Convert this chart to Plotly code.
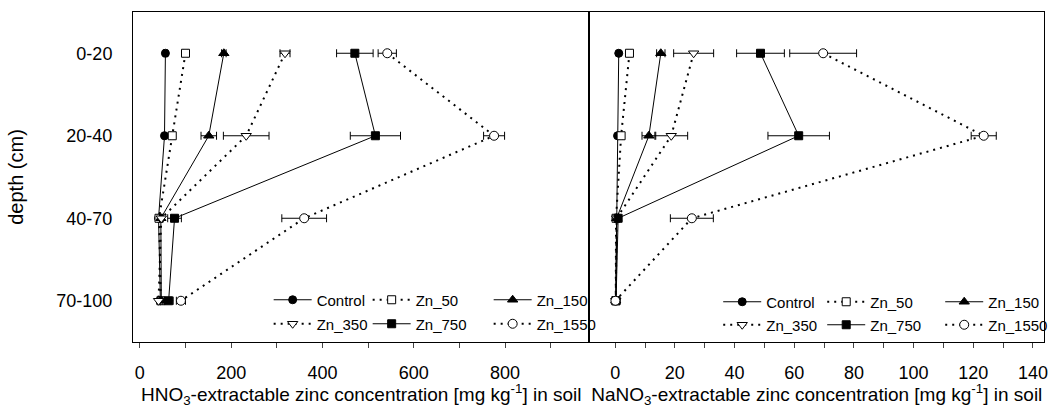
import plotly.graph_objects as go

# ---------------- data ----------------
depths = ["0-20", "20-40", "40-70", "70-100"]
series_names = ["Control", "Zn_50", "Zn_150", "Zn_350", "Zn_750", "Zn_1550"]

# HNO3-extractable Zn [mg/kg]
hno3_control = [56, 54, 41, 45]
hno3_zn50 = [100, 71, 42, 46]
hno3_zn150 = [184, 151, 46, 47]
hno3_zn350 = [318, 233, 47, 41]
hno3_zn750 = [471, 516, 76, 63]
hno3_zn1550 = [542, 776, 360, 90]

hno3_err_control = [4, 3, 2, 2]
hno3_err_zn50 = [5, 4, 2, 2]
hno3_err_zn150 = [5, 17, 3, 2]
hno3_err_zn350 = [11, 50, 4, 2]
hno3_err_zn750 = [40, 55, 15, 10]
hno3_err_zn1550 = [20, 23, 49, 10]

# NaNO3-extractable Zn [mg/kg]
nano3_control = [1.2, 0.8, 0.4, 0.2]
nano3_zn50 = [4.8, 2.0, 0.3, 0.2]
nano3_zn150 = [15.3, 11.3, 0.5, 0.2]
nano3_zn350 = [26.3, 18.8, 0.5, 0.2]
nano3_zn750 = [48.7, 61.5, 1.0, 0.3]
nano3_zn1550 = [69.7, 123.5, 25.7, 0.1]

nano3_err_control = [0.3, 0.3, 0.0, 0.0]
nano3_err_zn50 = [0.5, 0.5, 0.0, 0.0]
nano3_err_zn150 = [1.4, 2.3, 0.2, 0.0]
nano3_err_zn350 = [6.7, 5.5, 0.2, 0.0]
nano3_err_zn750 = [8.0, 10.3, 0.3, 0.0]
nano3_err_zn1550 = [11.2, 4.2, 7.2, 0.0]

hno3_tick_vals = [0, 200, 400, 600, 800]
nano3_tick_vals = [0, 20, 40, 60, 80, 100, 120, 140]

# ---------------- styles ----------------
FONT = "Liberation Sans, Arial, Helvetica, sans-serif"
DOT = "2px,5px"
styles = {
    "Control": dict(symbol="circle", fill="black", dash="solid", lw=1, size=8),
    "Zn_50": dict(symbol="square", fill="white", dash=DOT, lw=2, size=8),
    "Zn_150": dict(symbol="triangle-up", fill="black", dash="solid", lw=1, size=9),
    "Zn_350": dict(symbol="triangle-down", fill="white", dash=DOT, lw=2, size=9),
    "Zn_750": dict(symbol="square", fill="black", dash="solid", lw=1, size=8),
    "Zn_1550": dict(symbol="circle", fill="white", dash=DOT, lw=2, size=9),
}

left_vals = [hno3_control, hno3_zn50, hno3_zn150, hno3_zn350, hno3_zn750, hno3_zn1550]
left_errs = [hno3_err_control, hno3_err_zn50, hno3_err_zn150, hno3_err_zn350,
             hno3_err_zn750, hno3_err_zn1550]
right_vals = [nano3_control, nano3_zn50, nano3_zn150, nano3_zn350, nano3_zn750, nano3_zn1550]
right_errs = [nano3_err_control, nano3_err_zn50, nano3_err_zn150, nano3_err_zn350,
              nano3_err_zn750, nano3_err_zn1550]

left_legends = ["legend", "legend", "legend", "legend2", "legend2", "legend2"]
right_legends = ["legend3", "legend3", "legend3", "legend4", "legend4", "legend4"]
left_lw = [46, 68, 60, 46, 68, 60]
right_lw = [51, 65, 60, 51, 65, 60]

fig = go.Figure()


def add_series(vals, errs, xaxis, yaxis, legends, lws):
    for i, name in enumerate(series_names):
        st = styles[name]
        fig.add_trace(go.Scatter(
            x=vals[i], y=depths, name=name, mode="lines+markers",
            xaxis=xaxis, yaxis=yaxis, legend=legends[i], legendwidth=lws[i],
            line=dict(color="black", width=st["lw"], dash=st["dash"]),
            marker=dict(symbol=st["symbol"], size=st["size"], color=st["fill"],
                        line=dict(color="black", width=1)),
            error_x=dict(type="data", array=errs[i], visible=True,
                         color="black", thickness=1, width=4),
        ))


add_series(left_vals, left_errs, "x", "y", left_legends, left_lw)
add_series(right_vals, right_errs, "x2", "y2", right_legends, right_lw)

W, H = 1058, 408
ml, mr, mt, mb = 133, 5, 12, 66
pw = W - ml - mr
ph = H - mt - mb
split = (594 - ml) / pw

axis_common = dict(showline=True, mirror=True, linecolor="black", linewidth=1,
                   showgrid=False, zeroline=False)

leg_common = dict(orientation="h", xanchor="left", yanchor="middle",
                  bgcolor="rgba(0,0,0,0)", borderwidth=0, itemwidth=38,
                  font=dict(family=FONT, size=15, color="black"),
                  traceorder="normal", itemclick=False)


def lx(px):
    return (px - ml) / pw


def ly(py):
    return (H - mb - py) / ph


fig.update_layout(
    width=W, height=H,
    margin=dict(l=ml, r=mr, t=mt, b=mb),
    paper_bgcolor="white", plot_bgcolor="white",
    font=dict(family=FONT, color="black"),
    xaxis=dict(domain=[0, split], range=[-15, 985],
               tickvals=hno3_tick_vals, ticks="outside", ticklen=5,
               tickcolor="#444", ticklabelstandoff=9,
               minor=dict(dtick=100, tick0=0, ticks="outside", ticklen=5, tickcolor="#444"),
               tickfont=dict(size=18),
               title=dict(text="HNO<sub>3</sub>-extractable zinc concentration [mg kg<sup>-1</sup>] in soil",
                          font=dict(size=19), standoff=4),
               **axis_common),
    xaxis2=dict(domain=[split, 1], range=[-8.6, 143.7],
                tickvals=nano3_tick_vals, ticks="outside", ticklen=5,
                tickcolor="#444", ticklabelstandoff=9,
                minor=dict(dtick=10, tick0=0, ticks="outside", ticklen=5, tickcolor="#444"),
                tickfont=dict(size=18),
                title=dict(text="NaNO<sub>3</sub>-extractable zinc concentration [mg kg<sup>-1</sup>] in soil",
                           font=dict(size=19), standoff=4),
                **axis_common),
    yaxis=dict(type="category", categoryorder="array", categoryarray=depths,
               range=[3.5, -0.5], ticks="", ticklabelstandoff=16,
               tickfont=dict(size=18),
               title=dict(text="depth (cm)", font=dict(size=20), standoff=27),
               **axis_common),
    yaxis2=dict(type="category", categoryorder="array", categoryarray=depths,
                range=[3.5, -0.5], ticks="", showticklabels=False,
                anchor="x2", **axis_common),
    legend=dict(x=lx(270), y=ly(300), **leg_common),
    legend2=dict(x=lx(270), y=ly(324), **leg_common),
    legend3=dict(x=lx(724), y=ly(302), **leg_common),
    legend4=dict(x=lx(724), y=ly(325), **leg_common),
)
fig.update_layout(xaxis2=dict(anchor="y2"))

# remove the browser's default body margin so the figure sits at the page origin
fig.write_html("out.html", config={"displayModeBar": False},
               post_script="document.body.style.margin='0';")
